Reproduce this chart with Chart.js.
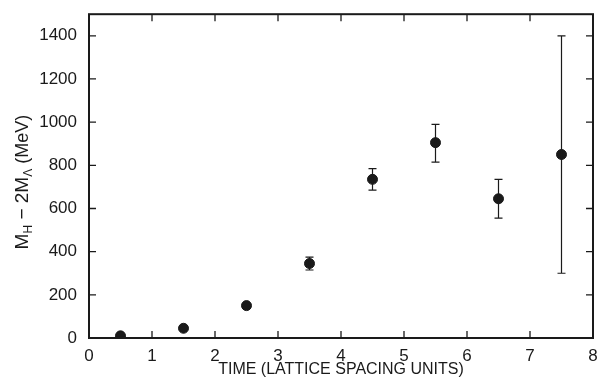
<!DOCTYPE html>
<html>
<head>
<meta charset="utf-8">
<script src="https://cdn.jsdelivr.net/npm/chart.js@4/dist/chart.umd.min.js"></script>
<style>
  html, body { margin: 0; padding: 0; background: #fff; }
  #wrap { width: 602px; height: 379px; }
</style>
</head>
<body>
<div id="wrap"><canvas id="c"></canvas></div>
<script>
// datos
const tiempo = [0.5, 1.5, 2.5, 3.5, 4.5, 5.5, 6.5, 7.5];
const masa = [10, 45, 150, 345, 735, 905, 645, 850];
const errArriba = [0, 0, 0, 30, 50, 85, 90, 550];
const errAbajo = [0, 0, 0, 30, 50, 90, 90, 550];
const xTicks = [0, 1, 2, 3, 4, 5, 6, 7, 8];
const yTicks = [0, 200, 400, 600, 800, 1000, 1200, 1400];

const tinta = '#1a1a1a';
const fuente = '"Liberation Sans", Arial, sans-serif';

// marco, ticks hacia adentro, barras de error y titulo del eje y
const marcoPlugin = {
  id: 'marco',
  afterDatasetsDraw(chart) {
    const ctx = chart.ctx;
    const a = chart.chartArea;
    const xs = chart.scales.x, ys = chart.scales.y;
    ctx.save();
    ctx.strokeStyle = tinta;
    ctx.lineWidth = 2;
    ctx.strokeRect(a.left, a.top, a.right - a.left, a.bottom - a.top);

    ctx.lineWidth = 1.3;
    const largo = 7;
    ctx.beginPath();
    xTicks.forEach(v => {
      if (v === 0 || v === 8) return;
      const px = xs.getPixelForValue(v);
      ctx.moveTo(px, a.bottom); ctx.lineTo(px, a.bottom - largo);
      ctx.moveTo(px, a.top); ctx.lineTo(px, a.top + largo);
    });
    yTicks.forEach(v => {
      if (v === 0) return;
      const py = ys.getPixelForValue(v);
      ctx.moveTo(a.left, py); ctx.lineTo(a.left + largo, py);
      ctx.moveTo(a.right, py); ctx.lineTo(a.right - largo, py);
    });
    ctx.stroke();

    // barras de error
    ctx.lineWidth = 1.2;
    ctx.beginPath();
    tiempo.forEach((t, i) => {
      if (!errArriba[i] && !errAbajo[i]) return;
      const px = xs.getPixelForValue(t);
      const y1 = ys.getPixelForValue(masa[i] + errArriba[i]);
      const y2 = ys.getPixelForValue(masa[i] - errAbajo[i]);
      ctx.moveTo(px, y1); ctx.lineTo(px, y2);
      ctx.moveTo(px - 4, y1); ctx.lineTo(px + 4, y1);
      ctx.moveTo(px - 4, y2); ctx.lineTo(px + 4, y2);
    });
    ctx.stroke();

    // titulo del eje y con subindices
    ctx.fillStyle = tinta;
    ctx.translate(23, (a.top + a.bottom) / 2 + 6);
    ctx.rotate(-Math.PI / 2);
    const partes = [
      ['M', 19, 0], ['H', 12, 6], [' \u2212 2M', 19, 0], ['\u039B', 12, 6], [' (MeV)', 18, 0]
    ];
    let total = 0;
    partes.forEach(p => { ctx.font = p[1] + 'px ' + fuente; total += ctx.measureText(p[0]).width; });
    let x = -total / 2;
    ctx.textBaseline = 'middle';
    partes.forEach(p => {
      ctx.font = p[1] + 'px ' + fuente;
      ctx.fillText(p[0], x, p[2]);
      x += ctx.measureText(p[0]).width;
    });
    ctx.restore();
  }
};

new Chart(document.getElementById('c'), {
  type: 'scatter',
  data: {
    datasets: [{
      data: tiempo.map((t, i) => ({ x: t, y: masa[i] })),
      backgroundColor: tinta,
      borderColor: tinta,
      pointRadius: 5,
      pointHoverRadius: 5
    }]
  },
  options: {
    responsive: true,
    maintainAspectRatio: false,
    animation: false,
    layout: { padding: { top: 13, right: 9, left: 0, bottom: 0 } },
    plugins: { legend: { display: false }, tooltip: { enabled: false } },
    scales: {
      x: {
        type: 'linear', min: 0, max: 8,
        afterBuildTicks: s => { s.ticks = xTicks.map(v => ({ value: v })); },
        afterFit: s => { s.height = 41; },
        grid: { display: false },
        border: { display: false },
        ticks: { color: tinta, font: { family: fuente, size: 17 }, padding: 0, callback: v => String(v) },
        title: {
          display: true, text: 'TIME (LATTICE SPACING UNITS)',
          color: tinta, font: { family: fuente, size: 16 }, padding: { top: 0, bottom: 0 }
        }
      },
      y: {
        type: 'linear', min: 0, max: 1500,
        afterBuildTicks: s => { s.ticks = yTicks.map(v => ({ value: v })); },
        afterFit: s => { s.width = 89; },
        grid: { display: false },
        border: { display: false },
        ticks: { color: tinta, font: { family: fuente, size: 17 }, padding: 4, callback: v => String(v) }
      }
    }
  },
  plugins: [marcoPlugin]
});
</script>
</body>
</html>
